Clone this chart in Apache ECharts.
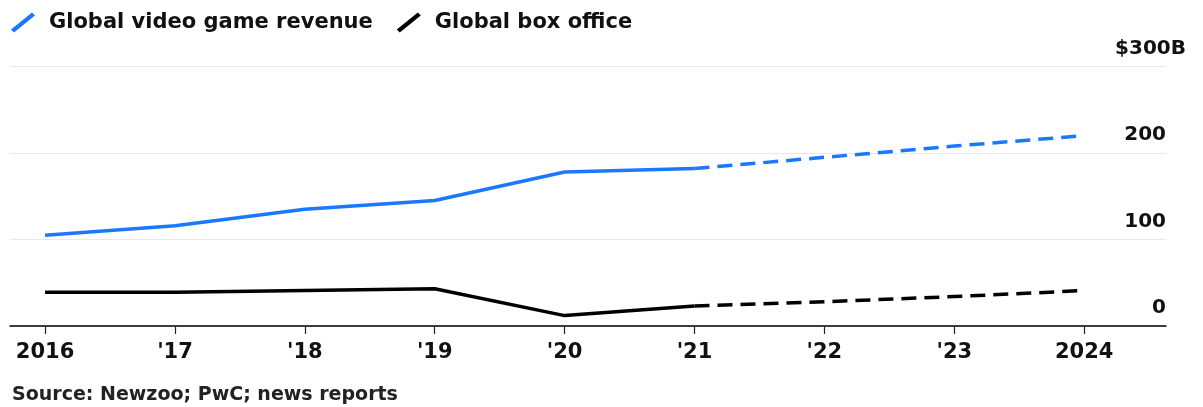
<!DOCTYPE html>
<html>
<head>
<meta charset="utf-8">
<script src="https://cdn.jsdelivr.net/npm/echarts@6/dist/echarts.min.js"></script>
<style>
html, body { margin: 0; padding: 0; background: #ffffff; }
#chart { width: 1203px; height: 407px; }
</style>
</head>
<body>
<div id="chart"></div>
<script>
// ---- data ----
const years = [2016, 2017, 2018, 2019, 2020, 2021, 2022, 2023, 2024];
const tickLabels = ['2016', "'17", "'18", "'19", "'20", "'21", "'22", "'23", '2024'];
const actualYears = [2016, 2017, 2018, 2019, 2020, 2021];
const forecastYears = [2021, 2022, 2023, 2024];
const gameActual = [105, 116, 135, 145, 178, 182];
const gameForecast = [182, 195, 208, 220];
const boxActual = [39, 39, 41, 43, 12, 23];
const boxForecast = [23, 28, 34, 41];
const yTicks = [0, 100, 200, 300];
const seriesNames = ['Global video game revenue', 'Global box office'];
const sourceText = 'Source: Newzoo; PwC; news reports';

// ---- styles ----
const FONT = '"DejaVu Sans", "Liberation Sans", Arial, sans-serif';
const BLUE = '#1a78ff';
const BLACK = '#000000';
const SLASH = 'path://M0,17L21,0L24,3L3,20Z';

function pairs(xs, ys) { return xs.map((x, i) => [x, ys[i]]); }

function lineSeries(name, xs, ys, color, dashed) {
  return {
    name: name,
    type: 'line',
    data: pairs(xs, ys),
    symbol: 'none',
    showSymbol: false,
    silent: true,
    color: color,
    itemStyle: { color: color },
    lineStyle: { color: color, width: 3.5, type: dashed ? [15, 8] : 'solid', cap: 'butt', join: 'round' },
    emphasis: { disabled: true },
    z: 3
  };
}

const chart = echarts.init(document.getElementById('chart'), null, { renderer: 'canvas' });

chart.setOption({
  animation: false,
  backgroundColor: '#ffffff',
  grid: { left: 10, right: 37, top: 66.5, bottom: 81, containLabel: false },
  legend: {
    left: 6,
    top: 7,
    itemWidth: 30,
    itemHeight: 20,
    itemGap: 24,
    selectedMode: false,
    data: [
      { name: seriesNames[0], icon: SLASH },
      { name: seriesNames[1], icon: SLASH }
    ],
    itemStyle: { borderWidth: 0 },
    textStyle: { fontFamily: FONT, fontSize: 21, fontWeight: 'bold', color: '#111111', padding: [0, 0, 0, 6] }
  },
  xAxis: {
    type: 'value',
    min: 2015.73,
    max: 2024.63,
    splitLine: { show: false },
    axisLine: { show: true, onZero: false, lineStyle: { color: '#000000', width: 1.5 } },
    axisTick: {
      show: true,
      customValues: years,
      length: 8,
      lineStyle: { color: '#222222', width: 1.2 }
    },
    axisLabel: {
      customValues: years,
      margin: 16,
      fontFamily: FONT,
      fontSize: 21,
      fontWeight: 'bold',
      color: '#111111',
      formatter: function (v) {
        const i = years.indexOf(Math.round(v));
        return i >= 0 ? tickLabels[i] : '';
      }
    }
  },
  yAxis: {
    type: 'value',
    position: 'right',
    min: yTicks[0],
    max: yTicks[yTicks.length - 1],
    interval: 100,
    axisLine: { show: false },
    axisTick: { show: false },
    splitLine: { show: true, lineStyle: { color: '#e9e9e9', width: 1.2 } },
    axisLabel: {
      align: 'right',
      verticalAlign: 'bottom',
      margin: 20,
      padding: [0, 0, 8, 0],
      fontFamily: FONT,
      fontSize: 20,
      fontWeight: 'bold',
      color: '#111111',
      formatter: function (v) {
        if (v === yTicks[yTicks.length - 1]) return '$' + v + 'B';
        return '{n|' + v + '}';
      },
      rich: {
        n: { padding: [0, 20, 0, 0], fontFamily: FONT, fontSize: 20, fontWeight: 'bold', color: '#111111' }
      }
    }
  },
  graphic: [
    {
      type: 'text',
      left: 12,
      top: 386,
      silent: true,
      style: { text: sourceText, font: 'bold 19px ' + FONT, fill: '#222222' }
    }
  ],
  series: [
    lineSeries(seriesNames[0], actualYears, gameActual, BLUE, false),
    lineSeries(seriesNames[0], forecastYears, gameForecast, BLUE, true),
    lineSeries(seriesNames[1], actualYears, boxActual, BLACK, false),
    lineSeries(seriesNames[1], forecastYears, boxForecast, BLACK, true)
  ]
});
</script>
</body>
</html>
